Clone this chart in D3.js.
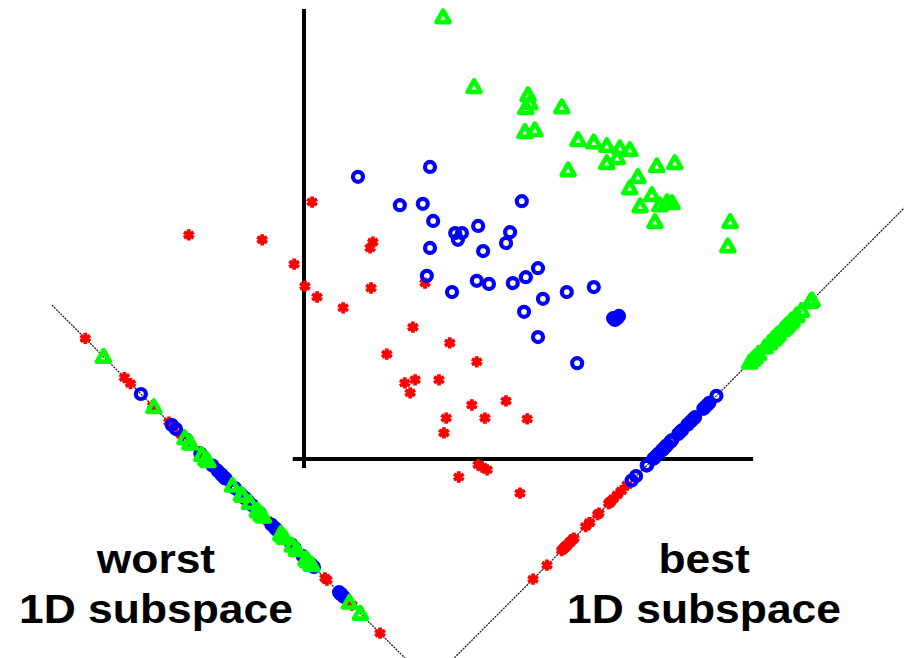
<!DOCTYPE html>
<html>
<head>
<meta charset="utf-8">
<script src="https://cdn.jsdelivr.net/npm/d3@7"></script>
<style>
  html, body { margin: 0; padding: 0; background: #fff; }
  svg { display: block; }
  text { font-family: "Liberation Sans", Arial, Helvetica, sans-serif; font-weight: bold; fill: #000; }
</style>
</head>
<body>
<div id="chart"></div>
<script>
// ---- data (x, y in arbitrary feature units) ----
const class1 = [ // red asterisks
  [-2.56, 4.98], [-0.93, 4.87], [0.18, 5.71], [-0.22, 4.33], [0.02, 3.84],
  [0.29, 3.60], [0.87, 3.36], [1.49, 3.80], [1.53, 4.82], [1.47, 4.69],
  [2.69, 3.91], [2.42, 2.93], [3.24, 2.58], [1.84, 2.33], [3.84, 2.16],
  [2.24, 1.69], [2.47, 1.76], [2.36, 1.47], [3.00, 1.76], [3.73, 1.20],
  [4.49, 1.29], [3.16, 0.91], [4.02, 0.91], [4.96, 0.89], [3.11, 0.58],
  [3.87, -0.13], [4.07, -0.24], [3.96, -0.18], [3.44, -0.40], [4.80, -0.76]
];
const class2 = [ // blue circles
  [1.20, 6.27], [2.80, 6.49], [2.13, 5.64], [2.64, 5.67], [2.87, 5.29],
  [3.36, 5.02], [3.51, 5.02], [3.42, 4.87], [3.87, 5.18], [4.84, 5.73],
  [4.58, 5.04], [4.49, 4.80], [2.80, 4.69], [3.98, 4.62], [2.73, 4.07],
  [3.29, 3.71], [3.84, 3.96], [4.11, 3.89], [4.64, 3.91], [4.93, 4.04],
  [5.20, 4.24], [5.31, 3.56], [5.84, 3.71], [6.44, 3.82], [4.89, 3.27],
  [6.87, 3.13], [6.96, 3.13], [7.00, 3.18], [6.91, 3.09], [5.20, 2.71],
  [6.07, 2.13]
];
const class3 = [ // green triangles
  [3.09, 9.82], [3.78, 8.27], [4.98, 8.09], [5.02, 7.91], [4.93, 7.80],
  [5.73, 7.82], [4.91, 7.27], [5.13, 7.31], [6.09, 7.09], [6.44, 7.04],
  [6.73, 6.96], [7.02, 6.91], [7.24, 6.87], [6.73, 6.58], [6.96, 6.69],
  [5.87, 6.42], [7.84, 6.51], [8.24, 6.58], [7.42, 6.27], [7.24, 6.02],
  [7.73, 5.87], [8.07, 5.71], [8.18, 5.69], [7.91, 5.64], [7.47, 5.62],
  [7.80, 5.27], [9.47, 5.27], [9.42, 4.73]
];
// subspace lines: y = slope * x + intercept
const bestLine  = { slope: 1,  intercept: -7.76, x0: 3.2,  x1: 13.5 };
const worstLine = { slope: -1, intercept: -2.18, x0: -5.6, x1: 2.35 };
const labels = [
  { lines: ["worst", "1D subspace"], x: -3.29 },
  { lines: ["best", "1D subspace"], x: 8.89 }
];

// ---- layout ----
const W = 904, H = 658;
const x = d3.scaleLinear().domain([0, 10]).range([304, 754]);
const y = d3.scaleLinear().domain([0, 10]).range([459, 9]);

const svg = d3.select("#chart").append("svg")
  .attr("width", W).attr("height", H).attr("viewBox", `0 0 ${W} ${H}`);
svg.append("rect").attr("width", W).attr("height", H).attr("fill", "#fff");

// axes
svg.append("line")
  .attr("x1", x(-0.25)).attr("x2", x(9.98))
  .attr("y1", y(0)).attr("y2", y(0))
  .attr("stroke", "#000").attr("stroke-width", 4);
svg.append("line")
  .attr("x1", x(0)).attr("x2", x(0))
  .attr("y1", y(-0.2)).attr("y2", y(10))
  .attr("stroke", "#000").attr("stroke-width", 4);

// subspace lines
[bestLine, worstLine].forEach(L => {
  svg.append("line")
    .attr("x1", x(L.x0)).attr("y1", y(L.slope * L.x0 + L.intercept))
    .attr("x2", x(L.x1)).attr("y2", y(L.slope * L.x1 + L.intercept))
    .attr("stroke", "#222").attr("stroke-width", 1.3)
    .attr("stroke-dasharray", "2,1");
});

function project(p, L) {
  // orthogonal projection onto y = m x + c (m = +-1)
  const m = L.slope, c = L.intercept;
  const t = (p[0] + m * (p[1] - c)) / (1 + m * m);
  return [t, m * t + c];
}

const astPath = d3.symbol().type(d3.symbolAsterisk).size(90)();
const triPath = "M0,-6.5L6.5,5L-6.5,5Z";

function drawSet(g, pts, kind) {
  if (kind === "red") {
    g.selectAll(null).data(pts).join("path")
      .attr("d", astPath)
      .attr("transform", d => `translate(${x(d[0])},${y(d[1])})`)
      .attr("fill", "none").attr("stroke", "#ff0000").attr("stroke-width", 3.8);
  } else if (kind === "blue") {
    g.selectAll(null).data(pts).join("circle")
      .attr("cx", d => x(d[0])).attr("cy", d => y(d[1])).attr("r", 5)
      .attr("fill", "none").attr("stroke", "#0000ff").attr("stroke-width", 4.2);
  } else {
    g.selectAll(null).data(pts).join("path")
      .attr("d", triPath)
      .attr("transform", d => `translate(${x(d[0])},${y(d[1])})`)
      .attr("fill", "none").attr("stroke", "#00ff00").attr("stroke-width", 4.6)
      .attr("stroke-linejoin", "round");
  }
}

const sets = [[class1, "red"], [class2, "blue"], [class3, "green"]];

// projections onto both lines
[worstLine, bestLine].forEach(L => {
  const g = svg.append("g");
  sets.forEach(([pts, kind]) => drawSet(g, pts.map(p => project(p, L)), kind));
});

// original scatter
const gMain = svg.append("g");
sets.forEach(([pts, kind]) => drawSet(gMain, pts, kind));

// labels
labels.forEach(lb => {
  const g = svg.append("g").attr("transform", `translate(${x(lb.x)},0) scale(1.11,1)`);
  lb.lines.forEach((t, i) => {
    g.append("text")
      .attr("x", 0).attr("y", 573 + i * 50)
      .attr("text-anchor", "middle")
      .attr("font-size", 40)
      .text(t);
  });
});
</script>
</body>
</html>
